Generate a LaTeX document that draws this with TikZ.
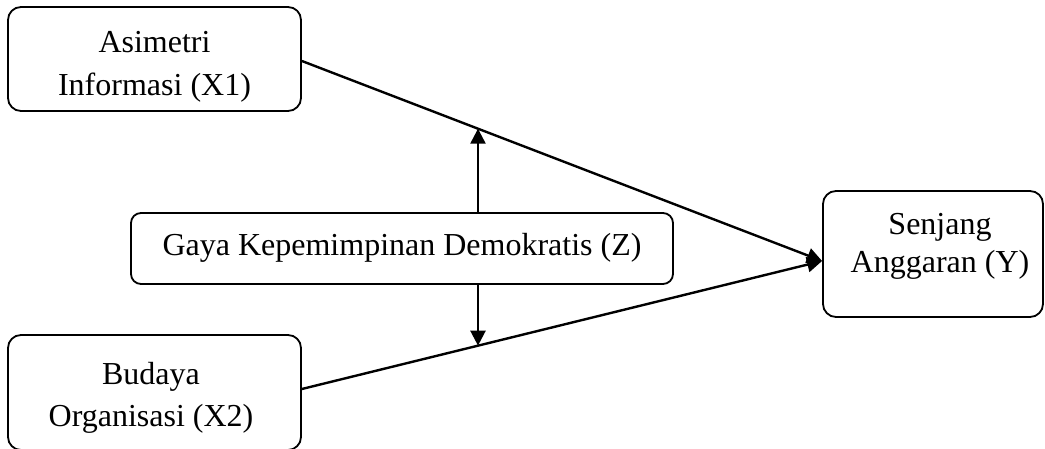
\documentclass[tikz,border=0pt]{standalone}
\usepackage{fontspec}
\setmainfont{Liberation Serif}
\usetikzlibrary{arrows.meta,intersections}
\begin{document}
\begin{tikzpicture}[x=1pt,y=1pt,
  box/.style={draw, line width=1.8pt, rounded corners=13pt, inner sep=0pt, align=center},
  link/.style={line width=2.4pt, -{Triangle[length=15pt,width=15pt]}},
  lbl/.style={font=\fontsize{32}{#1}\selectfont}]
\useasboundingbox (0,0) rectangle (1045,449);

% variables
\node[box, lbl=43, minimum width=293pt, minimum height=104pt,
      text height=10pt, text depth=22pt] (x1) at (154.5,390)
  {\begin{tabular}[t]{@{}c@{}}Asimetri\\Informasi (X1)\end{tabular}};
\node[box, lbl=42, minimum width=293pt, minimum height=115pt,
      text height=5pt, text depth=20pt] (x2) at (154.5,56.5)
  {\begin{tabular}[t]{@{}c@{\hspace{7pt}}}Budaya\\Organisasi (X2)\end{tabular}};
\node[box, lbl=38, rounded corners=10pt, minimum width=542pt, minimum height=71pt,
      text height=20pt, text depth=5pt] (z) at (402,200.5)
  {Gaya Kepemimpinan Demokratis (Z)};
\node[box, lbl=37.5, minimum width=220pt, minimum height=126pt,
      text height=2pt, text depth=40pt] (sa) at (933,195)
  {\begin{tabular}[t]{@{\hspace{14pt}}c@{}}Senjang\\Anggaran (Y)\end{tabular}};

% direct effects
\coordinate (tip) at ([yshift=-7pt]sa.west);
\draw[link, name path=l1] ([yshift=-2pt]x1.east) -- (tip);
\draw[link, name path=l2] ([yshift=3.5pt]x2.east) -- (tip);

% moderating effects
\path[name path=v1] ([xshift=76pt]z.north) -- ++(0,150);
\path[name path=v2] ([xshift=76pt]z.south) -- ++(0,-150);
\path[name intersections={of=v1 and l1, by=m1}];
\path[name intersections={of=v2 and l2, by=m2}];
\draw[link] ([xshift=76pt]z.north) -- (m1);
\draw[link] ([xshift=76pt]z.south) -- (m2);
\end{tikzpicture}
\end{document}
